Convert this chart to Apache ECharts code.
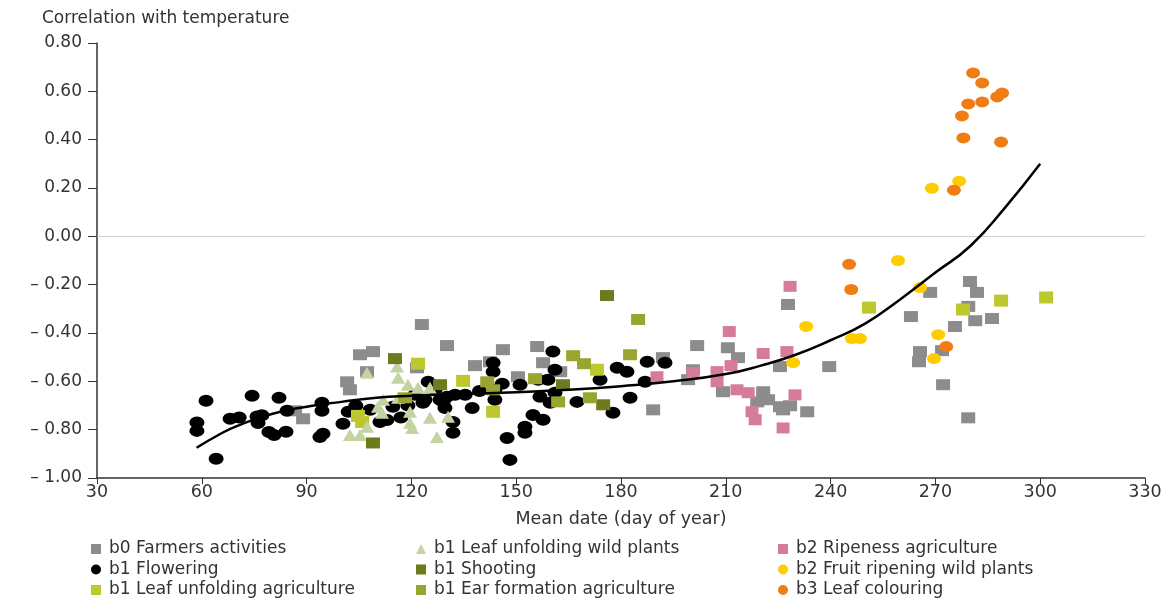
<!DOCTYPE html>
<html>
<head>
<meta charset="utf-8">
<script src="https://cdn.jsdelivr.net/npm/echarts@6/dist/echarts.min.js"></script>
<style>html,body{margin:0;padding:0;background:#fff;}#c{width:1176px;height:600px;}</style>
</head>
<body>
<div id="c"></div>
<script>
// ---- data (x = mean day of year, y = correlation with temperature) ----
const xTicks = [30, 60, 90, 120, 150, 180, 210, 240, 270, 300, 330];
const yTicks = [-1.0, -0.8, -0.6, -0.4, -0.2, 0.0, 0.2, 0.4, 0.6, 0.8];

const farmersX = [86.7,89.0,101.6,102.4,105.3,109.0,107.3,123.0,130.2,121.6,138.2,142.5,146.2,150.5,156.0,157.7,162.6,189.2,192.0,201.8,210.6,213.5,200.6,199.2,209.2,219.0,220.7,222.1,225.5,228.4,226.4,233.3,227.8,225.5,239.6,279.9,281.9,268.5,279.4,263.0,281.4,286.2,275.6,265.6,265.3,271.9,272.2,279.4];
const farmersY = [-0.722,-0.755,-0.602,-0.635,-0.49,-0.477,-0.56,-0.365,-0.452,-0.544,-0.535,-0.519,-0.469,-0.581,-0.456,-0.523,-0.56,-0.718,-0.502,-0.452,-0.461,-0.502,-0.552,-0.593,-0.643,-0.685,-0.643,-0.676,-0.705,-0.701,-0.718,-0.726,-0.282,-0.539,-0.539,-0.187,-0.232,-0.232,-0.29,-0.332,-0.349,-0.34,-0.373,-0.477,-0.519,-0.473,-0.614,-0.751];

const floweringX = [58.6,58.6,61.2,64.1,68.1,70.7,74.4,75.8,77.2,76.1,79.2,80.7,82.1,84.1,84.4,93.8,94.7,94.4,94.4,100.4,101.9,104.1,108.2,111.0,114.7,113.0,117.0,119.0,121.0,123.9,124.8,126.8,128.2,129.6,131.9,131.9,130.2,132.5,135.4,137.4,123.3,129.1,139.5,143.4,143.4,143.9,143.9,146.0,147.4,148.2,152.5,152.5,154.8,157.7,156.8,159.7,161.1,160.5,161.1,156.3,159.1,151.1,167.4,174.0,178.9,181.7,187.5,192.6,186.9,182.6,177.7];
const floweringY = [-0.77,-0.805,-0.68,-0.92,-0.755,-0.75,-0.66,-0.745,-0.74,-0.772,-0.81,-0.822,-0.668,-0.809,-0.722,-0.83,-0.817,-0.689,-0.722,-0.776,-0.726,-0.701,-0.718,-0.768,-0.705,-0.76,-0.75,-0.70,-0.656,-0.676,-0.602,-0.635,-0.676,-0.71,-0.768,-0.813,-0.664,-0.656,-0.656,-0.71,-0.689,-0.685,-0.64,-0.523,-0.56,-0.635,-0.676,-0.61,-0.834,-0.925,-0.788,-0.813,-0.739,-0.759,-0.664,-0.689,-0.647,-0.477,-0.552,-0.593,-0.593,-0.614,-0.685,-0.593,-0.544,-0.56,-0.519,-0.523,-0.602,-0.668,-0.73];

const leafAgriX = [104.7,105.9,121.9,134.8,143.4,173.1,251.0,277.9,288.8,301.7];
const leafAgriY = [-0.743,-0.768,-0.527,-0.598,-0.726,-0.552,-0.295,-0.303,-0.266,-0.253];

const leafWildX = [102.4,105.3,107.3,107.3,110.4,111.6,111.9,115.9,116.2,119.0,119.6,119.6,120.2,125.3,125.3,127.3,130.5,116.2,121.9];
const leafWildY = [-0.822,-0.822,-0.788,-0.564,-0.705,-0.73,-0.676,-0.539,-0.585,-0.614,-0.726,-0.772,-0.793,-0.627,-0.751,-0.83,-0.747,-0.668,-0.627];

const shootingX = [115.3,109.0,176.0,174.9,163.4,128.2];
const shootingY = [-0.506,-0.855,-0.245,-0.697,-0.614,-0.614];

const earX = [184.9,182.6,166.3,169.4,171.1,155.4,141.7,143.4,118.2,162.0];
const earY = [-0.344,-0.49,-0.494,-0.527,-0.668,-0.589,-0.602,-0.635,-0.668,-0.685];

const ripenessX = [228.4,211.0,220.7,227.5,190.3,200.6,207.5,207.5,211.5,213.2,216.4,217.5,218.4,226.4,229.8];
const ripenessY = [-0.207,-0.394,-0.485,-0.477,-0.581,-0.564,-0.56,-0.602,-0.535,-0.635,-0.647,-0.726,-0.759,-0.793,-0.656];

const fruitX = [259.3,265.6,270.8,269.6,246.1,248.4,269.0,276.8,233.0,229.3];
const fruitY = [-0.10,-0.212,-0.407,-0.506,-0.423,-0.423,0.199,0.228,-0.373,-0.523];

const colourX = [280.8,283.4,289.1,287.7,279.4,283.4,277.6,278.0,288.8,275.3,245.3,245.9,273.1];
const colourY = [0.676,0.635,0.593,0.577,0.548,0.556,0.498,0.407,0.39,0.191,-0.116,-0.22,-0.456];

const trendX = [58.5,65,70,80,90,100,110,120,135,150,165,180,195,210,220,230,240,250,260,270,280,290,300];
const trendY = [-0.875,-0.82,-0.785,-0.735,-0.705,-0.685,-0.668,-0.66,-0.652,-0.645,-0.635,-0.62,-0.6,-0.57,-0.535,-0.49,-0.43,-0.36,-0.26,-0.15,-0.04,0.12,0.30];

const names = ['b0 Farmers activities','b1 Flowering','b1 Leaf unfolding agriculture','b1 Leaf unfolding wild plants','b1 Shooting','b1 Ear formation agriculture','b2 Ripeness agriculture','b2 Fruit ripening wild plants','b3 Leaf colouring'];

// ---- chart ----
const zip = (xs, ys) => xs.map((x, i) => [x, ys[i]]);
const FONT = 'DejaVu Sans';
const chart = echarts.init(document.getElementById('c'), null, {renderer: 'canvas'});

function sc(name, xs, ys, symbol, size, color) {
  return {type: 'scatter', name, data: zip(xs, ys), symbol, symbolSize: size,
    itemStyle: {color, opacity: 1}, emphasis: {disabled: true}};
}

const legendBase = {orient: 'vertical', top: 540, height: 60, padding: 0, itemWidth: 10, itemHeight: 10, itemGap: 2.5,
  textStyle: {fontFamily: FONT, fontSize: 17, color: '#333', lineHeight: 18, padding: [0,0,0,3]}, selectedMode: false};

chart.setOption({
  animation: false,
  backgroundColor: '#fff',
  title: {text: 'Correlation with temperature', left: 42, top: 10, padding: 0,
    textStyle: {fontFamily: FONT, fontSize: 17, fontWeight: 'normal', color: '#333'}},
  grid: {left: 97, right: 31, top: 43, bottom: 122, containLabel: false},
  legend: [
    Object.assign({}, legendBase, {left: 91, data: names.slice(0,3)}),
    Object.assign({}, legendBase, {left: 416, data: names.slice(3,6)}),
    Object.assign({}, legendBase, {left: 778, data: names.slice(6,9)})
  ],
  xAxis: {type: 'value', min: xTicks[0], max: xTicks[xTicks.length-1], interval: 30,
    name: 'Mean date (day of year)', nameLocation: 'middle', nameGap: 32,
    nameTextStyle: {fontFamily: FONT, fontSize: 17.5, color: '#333'},
    axisLine: {onZero: false, lineStyle: {color: '#333', width: 1.5}},
    axisTick: {show: true, length: 6, lineStyle: {color: '#333'}},
    axisLabel: {fontFamily: FONT, fontSize: 17.5, color: '#333', margin: 5},
    splitLine: {show: false}},
  yAxis: {type: 'value', min: yTicks[0], max: yTicks[yTicks.length-1], interval: 0.2,
    axisLine: {show: true, onZero: false, lineStyle: {color: '#333', width: 1.5}},
    axisTick: {show: true, length: 9, lineStyle: {color: '#333'}},
    axisLabel: {fontFamily: FONT, fontSize: 17, color: '#333', margin: 15,
      formatter: v => (v < -1e-9 ? '\u2013 ' + Math.abs(v).toFixed(2) : Math.abs(v).toFixed(2))},
    splitLine: {show: false}},
  series: [
    Object.assign(sc(names[0], farmersX, farmersY, 'rect', [14,11], '#8c8c8c'), {
      markLine: {silent: true, symbol: ['none','none'], label: {show: false},
        lineStyle: {color: '#cfcfcf', width: 1, type: 'solid'}, data: [{yAxis: 0}]}}),
    sc(names[1], floweringX, floweringY, 'circle', [15,12], '#000000'),
    sc(names[2], leafAgriX, leafAgriY, 'rect', [14,12], '#bcc82e'),
    sc(names[3], leafWildX, leafWildY, 'triangle', [14,12], '#c3d4a2'),
    sc(names[4], shootingX, shootingY, 'rect', [14,11], '#6f7a1f'),
    sc(names[5], earX, earY, 'rect', [14,11], '#9aa52f'),
    sc(names[6], ripenessX, ripenessY, 'rect', [13,11], '#d77b9c'),
    sc(names[7], fruitX, fruitY, 'circle', [14,11], '#ffcc00'),
    sc(names[8], colourX, colourY, 'circle', [14,11], '#ef7d14'),
    {type: 'line', name: 'trend', data: zip(trendX, trendY), smooth: true, symbol: 'none',
      lineStyle: {color: '#000', width: 2.5}, z: 5, emphasis: {disabled: true}}
  ]
});
</script>
</body>
</html>
